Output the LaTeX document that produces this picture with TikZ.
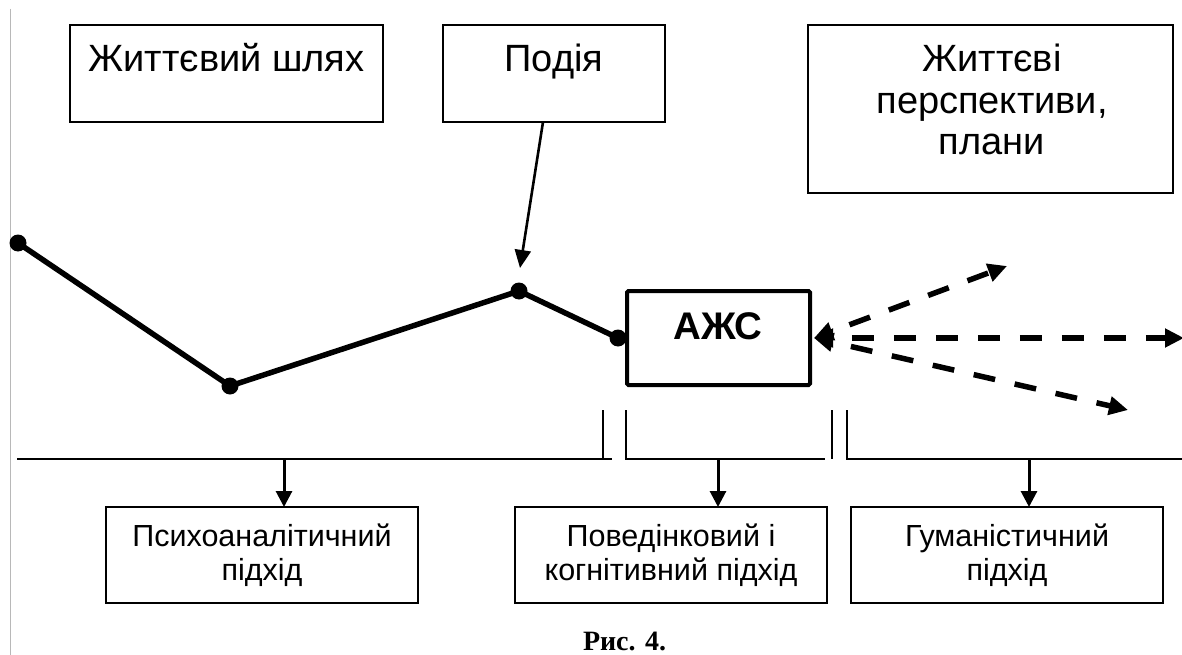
\documentclass[tikz,border=0pt]{standalone}
\usepackage{fontspec}
\setmainfont{Liberation Sans}
\newfontfamily\capfont{Liberation Serif}
\usetikzlibrary{arrows.meta}
\newcommand\mlines[1]{\begin{tabular}[t]{@{}c@{}}#1\end{tabular}}
\begin{document}
\begin{tikzpicture}[x=1pt,y=-1pt,
  topbox/.style={draw, line width=1.6pt, anchor=north west, inner sep=0pt, outer sep=0pt},
  botbox/.style={draw, line width=1.6pt, anchor=north west, inner sep=0pt, outer sep=0pt, minimum width=312pt, minimum height=96pt},
  bigtxt/.style={anchor=base, inner sep=0pt, font=\fontsize{38}{41.5}\selectfont},
  smalltxt/.style={anchor=base, inner sep=0pt, font=\fontsize{30.5}{34}\selectfont},
  dot/.style={circle, fill=black, inner sep=0pt, minimum size=17pt},
  pathline/.style={line width=5.5pt, line join=round},
  thin/.style={line width=1.6pt},
  downarrow/.style={line width=3pt, -{Triangle[length=16pt,width=16pt]}},
  dasharrow/.style={line width=5.5pt, dash pattern=on 22pt off 20pt, dash phase=22pt,
     {Triangle[length=19pt,width=18pt]}-{Triangle[length=19pt,width=18pt]}}
]
\useasboundingbox (0,0) rectangle (1182,655);
\fill[white] (0,0) rectangle (1182,655);
% left gray margin line
\coordinate (gtop) at (10.5,9);
\coordinate (gbot) at (10.5,655);
\draw[line width=1.5pt, black!28] (gtop) -- (gbot);

% top boxes
\node[topbox, minimum width=313pt, minimum height=97pt] (t1) at (70,25) {};
\node[topbox, minimum width=222pt, minimum height=97pt] (t2) at (443,25) {};
\node[topbox, minimum width=365pt, minimum height=168pt] (t3) at (808,25) {};
\node[bigtxt] (t1txt) at (226.5,72) {Життєвий шлях};
\node[bigtxt] (t2txt) at (554,72) {Подія};
\node[bigtxt] (t3txt) at (992,72) {\mlines{Життєві\\перспективи,\\плани}};

% life path
\node[dot] (p1) at (18,243) {};
\node[dot] (p2) at (230,386) {};
\node[dot] (p3) at (519,291) {};
\node[dot] (p4) at (618,338) {};
\draw[pathline] (p1.center) -- (p2.center) -- (p3.center) -- (p4.center);

% event arrow
\coordinate (evs) at (543,122);
\coordinate (eve) at (520,268);
\draw[line width=2.6pt, -{Triangle[length=18pt,width=16pt]}] (evs) -- (eve);

% AZhS box
\node[draw, line width=4pt, rounded corners=1.5pt, anchor=north west, inner sep=0pt, outer sep=0pt,
      minimum width=183pt, minimum height=94pt] (ajs) at (627,291) {};
\node[anchor=base, inner sep=0pt, font=\bfseries\fontsize{38.5}{40}\selectfont] (ajstxt) at (718,339) {АЖС};

% dashed perspective arrows
\coordinate (d0) at (814,338);
\coordinate (e1) at (1007,266);
\coordinate (e2) at (1184,338);
\coordinate (e3) at (1128,410);
\draw[dasharrow] (d0) -- (e1);
\draw[dasharrow] (d0) -- (e2);
\draw[dasharrow] (d0) -- (e3);

% bracket lines
\coordinate (l1a) at (17,459);
\coordinate (l1b) at (612,459);
\coordinate (v1a) at (603,410);
\coordinate (v1b) at (603,459);
\coordinate (m1) at (626,410);
\coordinate (m2) at (626,459);
\coordinate (m3) at (825,459);
\coordinate (v2a) at (832,410);
\coordinate (v2b) at (832,459);
\coordinate (r1) at (847,410);
\coordinate (r2) at (847,459);
\coordinate (r3) at (1182,459);
\draw[thin] (l1a) -- (l1b);
\draw[thin] (v1a) -- (v1b);
\draw[thin] (m1) -- (m2) -- (m3);
\draw[thin] (v2a) -- (v2b);
\draw[thin] (r1) -- (r2) -- (r3);

% bottom boxes
\node[botbox] (b1) at (106,507) {};
\node[botbox] (b2) at (515,507) {};
\node[botbox] (b3) at (851,507) {};
\node[smalltxt] (b1txt) at (262,546) {\mlines{Психоаналітичний\\підхід}};
\node[smalltxt] (b2txt) at (671,546) {\mlines{Поведінковий і\\когнітивний підхід}};
\node[smalltxt] (b3txt) at (1007,546) {\mlines{Гуманістичний\\підхід}};

% down arrows
\coordinate (a1) at (284,459);
\coordinate (a2) at (718,459);
\coordinate (a3) at (1029,459);
\draw[downarrow] (a1) -- (a1 |- b1.north);
\draw[downarrow] (a2) -- (a2 |- b2.north);
\draw[downarrow] (a3) -- (a3 |- b3.north);

% caption
\node[anchor=base, inner sep=0pt, font=\capfont\bfseries\fontsize{28}{30}\selectfont] (cap) at (624.5,650) {Рис. 4.};
\end{tikzpicture}
\end{document}
